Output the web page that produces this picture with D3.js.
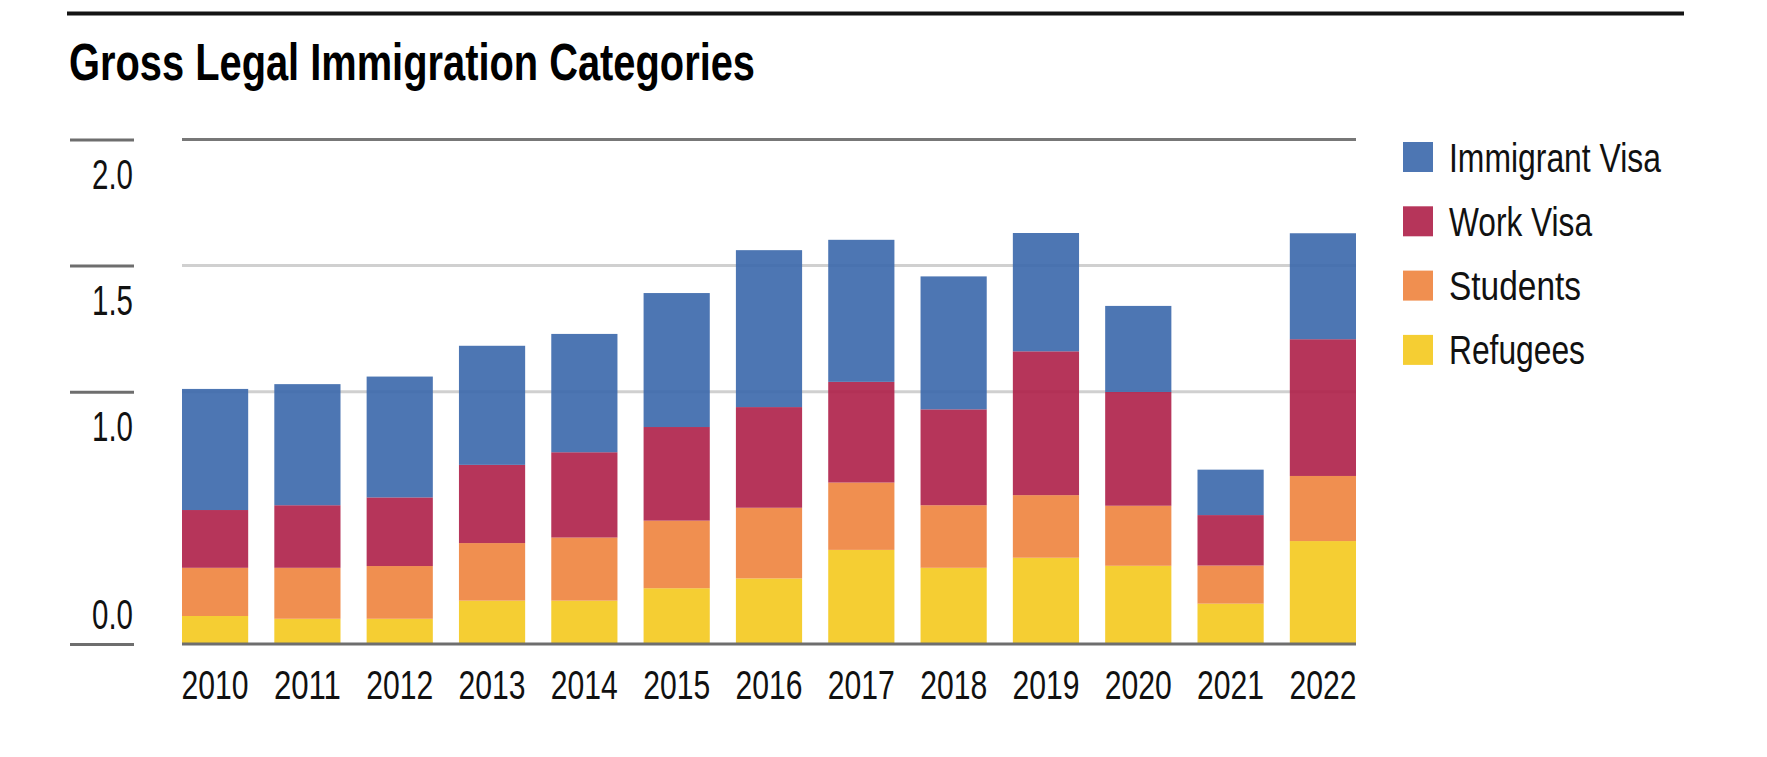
<!DOCTYPE html>
<html>
<head>
<meta charset="utf-8">
<script src="https://cdn.jsdelivr.net/npm/d3@7/dist/d3.min.js"></script>
<style>
  html, body { margin: 0; padding: 0; background: #ffffff; }
  svg { display: block; }
  text { font-family: "Liberation Sans Narrow", "Liberation Sans", Arial, sans-serif; }
</style>
</head>
<body>
<svg id="chart" width="1767" height="757"></svg>
<script>
// ---- data (millions of people) ----
const years = ["2010","2011","2012","2013","2014","2015","2016","2017","2018","2019","2020","2021","2022"];
const refugees      = [0.111,0.100,0.100,0.172,0.172,0.221,0.260,0.373,0.302,0.342,0.310,0.160,0.408];
const students      = [0.191,0.202,0.209,0.228,0.250,0.268,0.280,0.267,0.248,0.248,0.238,0.151,0.258];
const workVisa      = [0.229,0.248,0.272,0.310,0.338,0.371,0.399,0.399,0.380,0.570,0.451,0.200,0.542];
const immigrantVisa = [0.480,0.480,0.479,0.472,0.469,0.531,0.622,0.563,0.527,0.469,0.341,0.180,0.420];
const seriesNames = ["Refugees","Students","Work Visa","Immigrant Visa"];
const legendOrder = ["Immigrant Visa","Work Visa","Students","Refugees"];
const yTickValues = [0, 1.0, 1.5, 2.0];
const yTickLabels = ["0.0","1.0","1.5","2.0"];
const title = "Gross Legal Immigration Categories";

// ---- build table for stacking ----
const table = years.map((yr, i) => ({
  year: yr,
  "Refugees": refugees[i],
  "Students": students[i],
  "Work Visa": workVisa[i],
  "Immigrant Visa": immigrantVisa[i]
}));

const colors = {
  "Immigrant Visa": "#3a67ab",
  "Work Visa": "#ae1f48",
  "Students": "#ee833d",
  "Refugees": "#f4c91d"
};
// rendered widths of legend labels (condensed face)
const legendTextWidth = { "Immigrant Visa": 212, "Work Visa": 143, "Students": 132, "Refugees": 136 };

const svg = d3.select("#chart");

const x = d3.scaleBand().domain(years).range([182, 1356]).paddingInner(0.283).paddingOuter(0);
const y = d3.scaleLinear().domain([0, 2]).range([644, 139.4]);

// top rule
svg.append("line").attr("x1", 67).attr("x2", 1684).attr("y1", 13.5).attr("y2", 13.5)
  .attr("stroke", "#141414").attr("stroke-width", 4);

// title
svg.append("text").attr("x", 69).attr("y", 80)
  .attr("font-size", 52).attr("font-weight", "bold").attr("fill", "#000")
  .attr("textLength", 686).attr("lengthAdjust", "spacingAndGlyphs")
  .text(title);

// light gridlines (under bars)
const gridG = svg.append("g");
gridG.selectAll("line.light").data([1.0, 1.5]).join("line")
  .attr("class", "light")
  .attr("x1", 182).attr("x2", 1356)
  .attr("y1", d => y(d)).attr("y2", d => y(d))
  .attr("stroke", "#d0d0d0").attr("stroke-width", 3);
gridG.append("line")
  .attr("x1", 182).attr("x2", 1356)
  .attr("y1", y(2)).attr("y2", y(2))
  .attr("stroke", "#777777").attr("stroke-width", 3);

// bars
const stack = d3.stack().keys(seriesNames);
const stacked = stack(table);
svg.append("g").selectAll("g").data(stacked).join("g")
  .attr("fill", d => colors[d.key]).attr("fill-opacity", 0.9)
  .selectAll("rect").data(d => d).join("rect")
  .attr("x", d => x(d.data.year))
  .attr("width", x.bandwidth())
  .attr("y", d => y(d[1]))
  .attr("height", d => y(d[0]) - y(d[1]));

// baseline
svg.append("line").attr("x1", 182).attr("x2", 1356).attr("y1", y(0)).attr("y2", y(0))
  .attr("stroke", "#6e6e6e").attr("stroke-width", 3);

// y axis stubs and labels
const yAxis = d3.axisLeft(y).tickValues(yTickValues).tickSize(64).tickSizeOuter(0)
  .tickFormat((d, i) => yTickLabels[i]);
const yg = svg.append("g").attr("transform", "translate(134,0)").call(yAxis);
yg.select(".domain").remove();
yg.selectAll(".tick line").attr("stroke", "#6e6e6e").attr("stroke-width", 3);
yg.selectAll(".tick text")
  .attr("x", -1).attr("font-size", 42).attr("fill", "#111")
  .attr("font-family", "'Liberation Sans Narrow', 'Liberation Sans', sans-serif")
  .attr("text-anchor", "end")
  .attr("dy", null)
  .attr("y", d => d === 0 ? -16 : 49)
  .attr("textLength", 41).attr("lengthAdjust", "spacingAndGlyphs");

// x axis labels
const xAxis = d3.axisBottom(x).tickSize(0);
const xg = svg.append("g").attr("transform", "translate(0,644)").call(xAxis);
xg.select(".domain").remove();
xg.selectAll(".tick text")
  .attr("font-size", 40).attr("fill", "#111")
  .attr("font-family", "'Liberation Sans Narrow', 'Liberation Sans', sans-serif")
  .attr("dy", null).attr("y", 54.5)
  .attr("textLength", 67).attr("lengthAdjust", "spacingAndGlyphs");

// legend
const lg = svg.append("g").selectAll("g").data(legendOrder).join("g")
  .attr("transform", (d, i) => `translate(1403,${142 + i * 64.3})`);
lg.append("rect").attr("width", 30).attr("height", 30)
  .attr("fill", d => colors[d]).attr("fill-opacity", 0.9);
lg.append("text").attr("x", 46).attr("y", 29.5)
  .attr("font-size", 40).attr("fill", "#111")
  .attr("textLength", d => legendTextWidth[d]).attr("lengthAdjust", "spacingAndGlyphs")
  .text(d => d);
</script>
</body>
</html>
